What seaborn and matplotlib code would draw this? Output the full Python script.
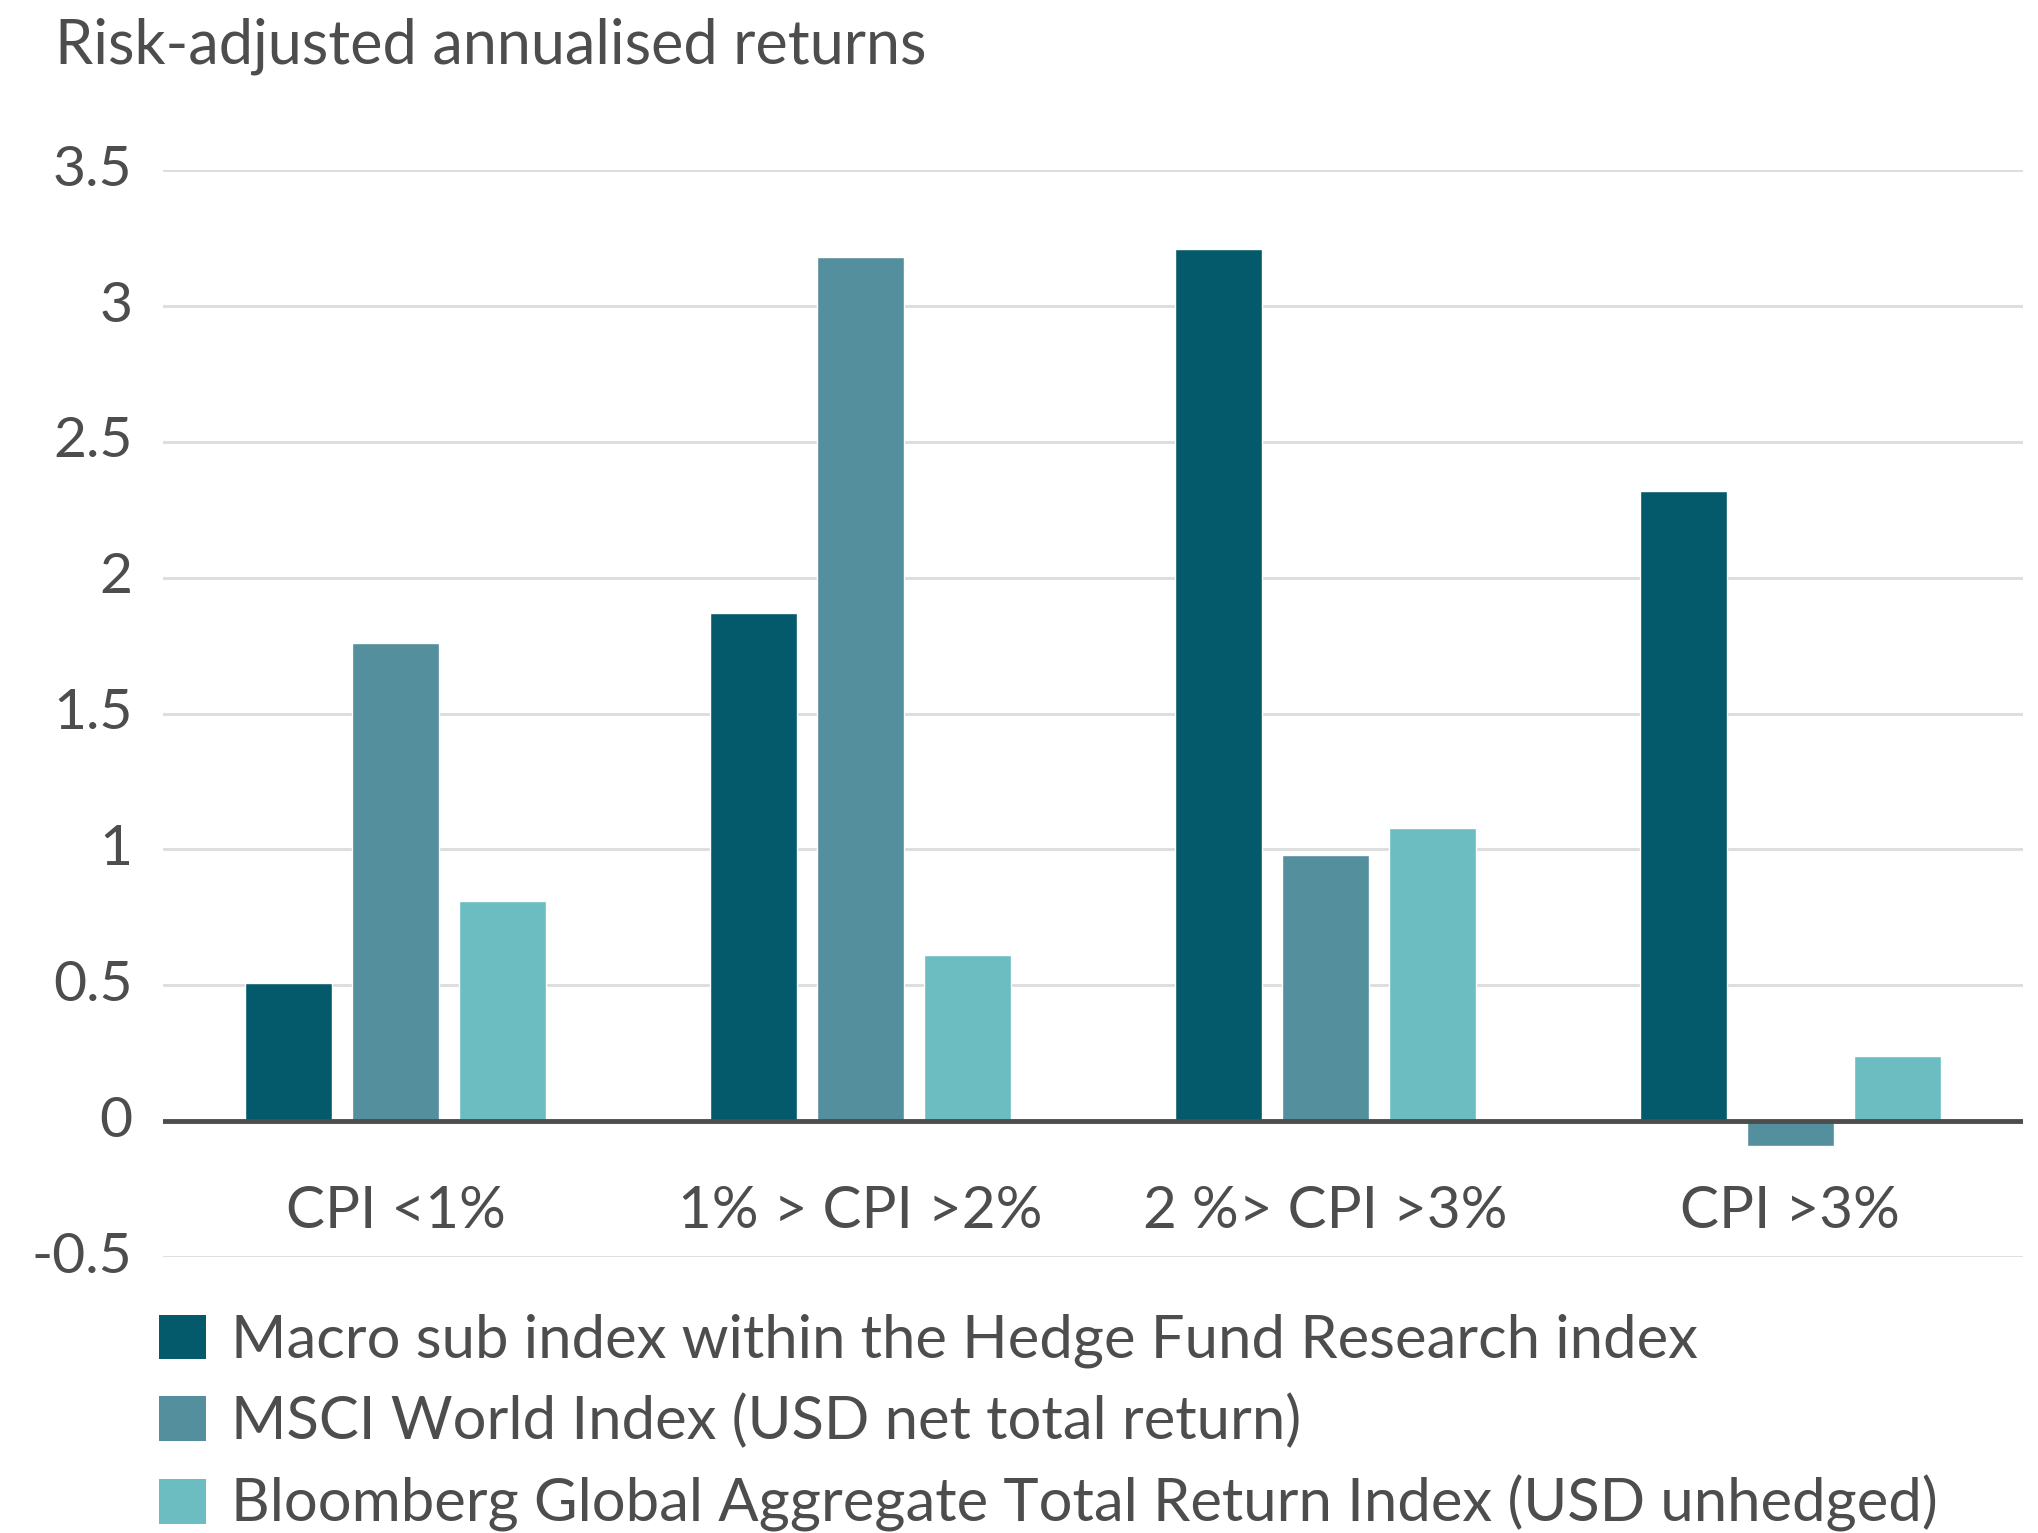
import matplotlib
matplotlib.use("Agg")
import matplotlib.pyplot as plt
import matplotlib.transforms as mtransforms
from matplotlib.patches import Patch
import pandas as pd
import seaborn as sns

categories = ["CPI <1%", "1% > CPI >2%", "2 %> CPI >3%", "CPI >3%"]
series = [
    "Macro sub index within the Hedge Fund Research index",
    "MSCI World Index (USD net total return)",
    "Bloomberg Global Aggregate Total Return Index (USD unhedged)",
]
macro = [0.51, 1.87, 3.21, 2.32]
msci = [1.76, 3.18, 0.98, -0.09]
bloomberg = [0.81, 0.61, 1.08, 0.24]
colors = ["#045a6b", "#548f9d", "#6bbdc1"]
yticks = [-0.5, 0, 0.5, 1, 1.5, 2, 2.5, 3, 3.5]
ytick_labels = ["-0.5", "0", "0.5", "1", "1.5", "2", "2.5", "3", "3.5"]

df = pd.DataFrame({
    "category": categories * 3,
    "series": [series[0]] * 4 + [series[1]] * 4 + [series[2]] * 4,
    "value": macro + msci + bloomberg,
})

sns.set_theme(style="white")
plt.rcParams["font.family"] = ["Lato", "DejaVu Sans"]
text_color = "#4d4d4d"

fig = plt.figure(figsize=(20.38, 15.33), dpi=100)
ax = fig.add_axes([0.080, 0.180, 0.9126, 0.709])

sns.barplot(data=df, x="category", y="value", hue="series", order=categories,
            hue_order=series, palette=colors, width=0.69, gap=0.18,
            saturation=1, errorbar=None, ax=ax, zorder=3)

ax.set_ylim(-0.5, 3.5)
ax.set_xlim(-0.5, 3.5)
ax.set_yticks(yticks)
ax.set_yticklabels(ytick_labels)
ax.grid(axis="y", color="#dcdcdc", linewidth=2, zorder=0)
ax.axhline(0, color=text_color, linewidth=3.5, zorder=4)
for s in ax.spines.values():
    s.set_visible(False)
ax.set_xlabel("")
ax.set_ylabel("")

ax.tick_params(axis="y", length=0, pad=22, labelsize=41, labelcolor=text_color)
ax.tick_params(axis="x", length=0, pad=-33, labelsize=42, labelcolor=text_color)
for lab in ax.get_xticklabels():
    lab.set_va("center")
off = mtransforms.ScaledTranslation(0, 5 / 100, fig.dpi_scale_trans)
for lab in ax.get_yticklabels():
    lab.set_transform(lab.get_transform() + off)

ax.legend_.remove()
handles = [Patch(facecolor=c, edgecolor="none") for c in colors]
fig.legend(handles, series, loc="upper left", bbox_to_anchor=(0.078, 0.143),
           frameon=False, fontsize=43, labelcolor=text_color,
           handlelength=0.78, handleheight=0.78, handletextpad=0.42,
           labelspacing=0.43, borderaxespad=0, borderpad=0)

fig.text(0.027, 0.970, "Risk-adjusted annualised returns", fontsize=44,
         color=text_color, va="center", ha="left")

fig.savefig("out.png", dpi=100)
